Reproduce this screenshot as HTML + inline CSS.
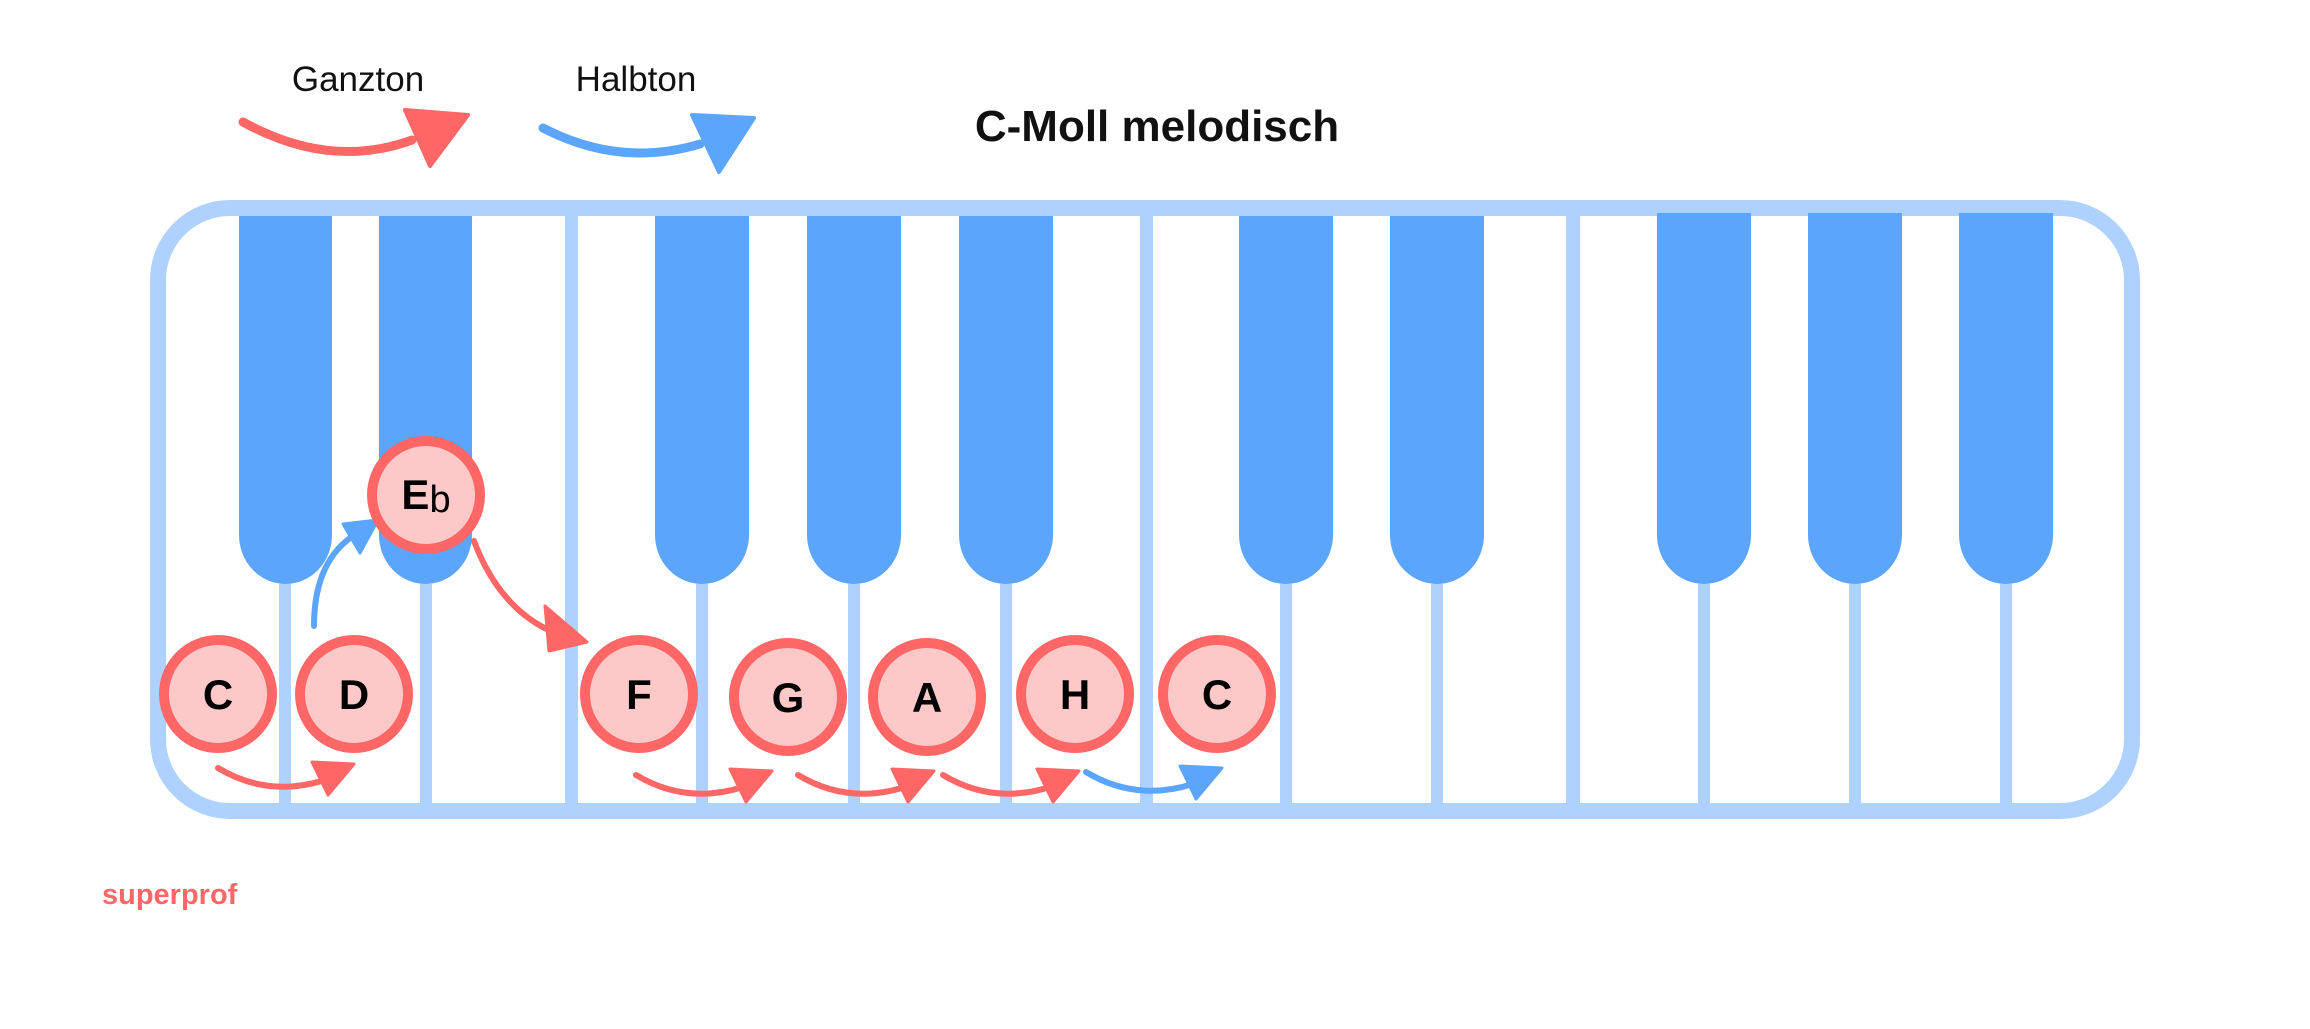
<!DOCTYPE html>
<html><head><meta charset="utf-8"><style>
html,body{margin:0;padding:0;background:#fff;}
svg{display:block;}
text{font-family:"Liberation Sans",sans-serif;}
</style></head><body>
<svg width="2310" height="1029" viewBox="0 0 2310 1029" xmlns="http://www.w3.org/2000/svg">
<rect x="0" y="0" width="2310" height="1029" fill="#fff"/>
<rect x="158" y="208" width="1974" height="603" rx="72" ry="72" fill="#fff" stroke="#aed2fd" stroke-width="16"/>
<g fill="#aed2fd">
<rect x="565" y="214" width="13" height="592"/>
<rect x="1140" y="214" width="13" height="592"/>
<rect x="1566" y="214" width="14" height="592"/>
</g>
<g fill="#5ca5fc">
<path d="M239 216 H332 V535 A46.5 49 0 0 1 239 535 Z"/>
<path d="M379 216 H472 V535 A46.5 49 0 0 1 379 535 Z"/>
<path d="M655 216 H749 V535 A47 49 0 0 1 655 535 Z"/>
<path d="M807 216 H901 V535 A47 49 0 0 1 807 535 Z"/>
<path d="M959 216 H1053 V535 A47 49 0 0 1 959 535 Z"/>
<path d="M1239 216 H1333 V535 A47 49 0 0 1 1239 535 Z"/>
<path d="M1390 216 H1484 V535 A47 49 0 0 1 1390 535 Z"/>
<path d="M1657 213 H1751 V535 A47 49 0 0 1 1657 535 Z"/>
<path d="M1808 213 H1902 V535 A47 49 0 0 1 1808 535 Z"/>
<path d="M1959 213 H2053 V535 A47 49 0 0 1 1959 535 Z"/>
</g>
<g fill="#aed2fd">
<rect x="279" y="584" width="12" height="222"/>
<rect x="420" y="584" width="12" height="222"/>
<rect x="696" y="584" width="12" height="222"/>
<rect x="848" y="584" width="12" height="222"/>
<rect x="1000" y="584" width="12" height="222"/>
<rect x="1280" y="584" width="12" height="222"/>
<rect x="1431" y="584" width="12" height="222"/>
<rect x="1698" y="584" width="12" height="222"/>
<rect x="1849" y="584" width="12" height="222"/>
<rect x="2000" y="584" width="12" height="222"/>
</g>
<text x="358" y="91" font-size="35" text-anchor="middle" fill="#111">Ganzton</text>
<text x="636" y="91" font-size="35" text-anchor="middle" fill="#111">Halbton</text>
<path d="M243 122 Q330 170 412 140" fill="none" stroke="#ff6666" stroke-width="9" stroke-linecap="round"/>
<polygon points="405,110 468,115 430,166" fill="#ff6666" stroke="#ff6666" stroke-width="4" stroke-linejoin="round"/>
<path d="M543 128 Q620 168 700 144" fill="none" stroke="#5ca5fc" stroke-width="9" stroke-linecap="round"/>
<polygon points="692,115 754,118 719,172" fill="#5ca5fc" stroke="#5ca5fc" stroke-width="4" stroke-linejoin="round"/>
<text x="1157" y="141" font-size="44" font-weight="bold" text-anchor="middle" fill="#111">C-Moll melodisch</text>
<defs>
<g id="arr">
<path d="M218 768 Q268 798 325 780" fill="none" stroke-width="6" stroke-linecap="round"/>
<polygon points="312,762 354,764 328,795" stroke-width="3" stroke-linejoin="round"/>
</g>
</defs>
<use href="#arr" fill="#ff6666" stroke="#ff6666"/>
<use href="#arr" x="418" y="7" fill="#ff6666" stroke="#ff6666"/>
<use href="#arr" x="580" y="7" fill="#ff6666" stroke="#ff6666"/>
<use href="#arr" x="725" y="7" fill="#ff6666" stroke="#ff6666"/>
<use href="#arr" x="868" y="4" fill="#5ca5fc" stroke="#5ca5fc"/>
<path d="M314 626 Q314 565 350 538" fill="none" stroke="#5ca5fc" stroke-width="6" stroke-linecap="round"/>
<polygon points="343,524 378,520 360,553" fill="#5ca5fc" stroke="#5ca5fc" stroke-width="3" stroke-linejoin="round"/>
<path d="M474 541 Q500 610 555 633" fill="none" stroke="#ff6666" stroke-width="6" stroke-linecap="round"/>
<polygon points="545,606 587,642 549,651" fill="#ff6666" stroke="#ff6666" stroke-width="3" stroke-linejoin="round"/>
<g fill="#fdc8c8" stroke="#ff6666" stroke-width="10">
<circle cx="218" cy="694" r="54"/>
<circle cx="354" cy="694" r="54"/>
<circle cx="426" cy="495" r="54"/>
<circle cx="639" cy="694" r="54"/>
<circle cx="788" cy="697" r="54"/>
<circle cx="927" cy="697" r="54"/>
<circle cx="1075" cy="694" r="54"/>
<circle cx="1217" cy="694" r="54"/>
</g>
<g font-size="42" font-weight="bold" fill="#000" text-anchor="middle">
<text x="218" y="709">C</text>
<text x="354" y="709">D</text>
<text x="639" y="709">F</text>
<text x="788" y="712">G</text>
<text x="927" y="712">A</text>
<text x="1075" y="709">H</text>
<text x="1217" y="709">C</text>
<text x="426" y="509">E<tspan font-weight="normal" font-size="38" dy="3">b</tspan></text>
</g>
<text x="102" y="904" font-size="29" font-weight="bold" fill="#ff6666">superprof</text>
</svg>
</body></html>
